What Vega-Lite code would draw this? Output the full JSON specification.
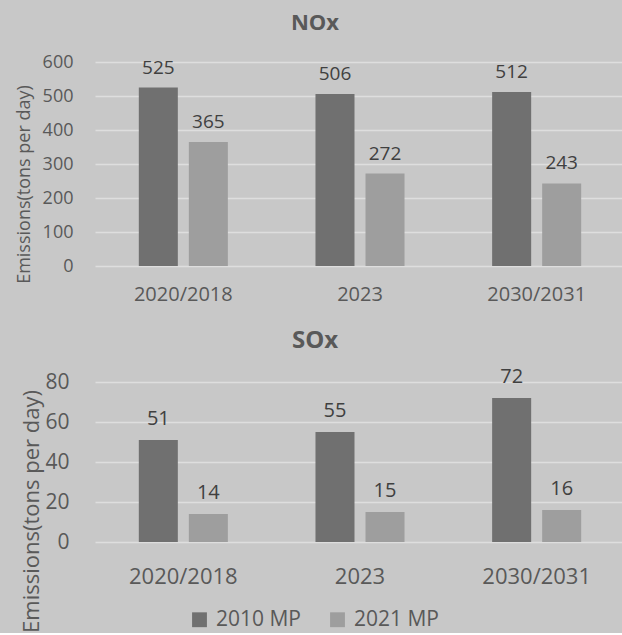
{
  "$schema": "https://vega.github.io/schema/vega-lite/v6.json",
  "background": "#c8c8c8",
  "padding": {"left": 14, "top": 12, "right": 0, "bottom": 0},
  "config": {
    "view": {"stroke": null},
    "font": "Open Sans",
    "axis": {"labelFont": "Open Sans", "titleFont": "Open Sans"},
    "legend": {"labelFont": "Open Sans"},
    "title": {"font": "Open Sans"}
  },
  "data": {
    "values": [
      {"pollutant": "NOx", "period": "2020/2018", "plan": "2010 MP", "value": 525},
      {"pollutant": "NOx", "period": "2020/2018", "plan": "2021 MP", "value": 365},
      {"pollutant": "NOx", "period": "2023", "plan": "2010 MP", "value": 506},
      {"pollutant": "NOx", "period": "2023", "plan": "2021 MP", "value": 272},
      {"pollutant": "NOx", "period": "2030/2031", "plan": "2010 MP", "value": 512},
      {"pollutant": "NOx", "period": "2030/2031", "plan": "2021 MP", "value": 243},
      {"pollutant": "SOx", "period": "2020/2018", "plan": "2010 MP", "value": 51},
      {"pollutant": "SOx", "period": "2020/2018", "plan": "2021 MP", "value": 14},
      {"pollutant": "SOx", "period": "2023", "plan": "2010 MP", "value": 55},
      {"pollutant": "SOx", "period": "2023", "plan": "2021 MP", "value": 15},
      {"pollutant": "SOx", "period": "2030/2031", "plan": "2010 MP", "value": 72},
      {"pollutant": "SOx", "period": "2030/2031", "plan": "2021 MP", "value": 16}
    ]
  },
  "spacing": 25,
  "resolve": {"scale": {"x": "independent", "y": "independent", "color": "shared"}},
  "vconcat": [
    {
      "width": 530,
      "height": 204,
      "title": {"text": "NOx", "fontSize": 22, "fontWeight": "bold", "color": "#595959", "frame": "group", "dx": -45, "offset": 18},
      "transform": [{"filter": "datum.pollutant === 'NOx'"}],
      "encoding": {
        "x": {
          "field": "period", "type": "nominal", "sort": ["2020/2018", "2023", "2030/2031"],
          "scale": {"paddingInner": 0.496, "paddingOuter": 0.248},
          "axis": {"title": null, "labelAngle": 0, "labelFontSize": 20, "labelColor": "#595959", "labelPadding": 18, "ticks": false, "domain": false, "grid": false}
        },
        "xOffset": {"field": "plan", "type": "nominal", "sort": ["2010 MP", "2021 MP"], "scale": {"paddingInner": 0.22, "paddingOuter": 0}},
        "y": {
          "field": "value", "type": "quantitative",
          "scale": {"domain": [0, 600], "nice": false},
          "axis": {"values": [0, 100, 200, 300, 400, 500, 600], "title": "Emissions(tons per day)", "titleFontSize": 18, "titleFontWeight": "normal", "titleColor": "#595959", "titleX": -62, "titleY": 122, "labelFontSize": 18, "labelColor": "#595959", "labelPadding": 22, "ticks": false, "domain": false, "grid": true, "gridColor": "#dedede", "gridWidth": 1.5}
        }
      },
      "layer": [
        {
          "mark": {"type": "bar"},
          "encoding": {
            "color": {
              "field": "plan", "type": "nominal",
              "scale": {"domain": ["2010 MP", "2021 MP"], "range": ["#707070", "#9e9e9e"]},
              "legend": {"title": null, "orient": "none", "direction": "horizontal", "legendX": 94, "legendY": 547, "symbolType": "square", "symbolSize": 220, "symbolStrokeWidth": 0, "labelFontSize": 21, "labelColor": "#595959", "labelOffset": 6, "columnPadding": 25, "labelLimit": 300}
            }
          }
        },
        {
          "mark": {"type": "text", "dy": -20, "fontSize": 19, "color": "#404040", "baseline": "middle"},
          "encoding": {"text": {"field": "value", "type": "quantitative"}}
        }
      ]
    },
    {
      "width": 530,
      "height": 160,
      "title": {"text": "SOx", "fontSize": 24, "fontWeight": "bold", "color": "#595959", "frame": "group", "dx": -45, "offset": 14},
      "transform": [{"filter": "datum.pollutant === 'SOx'"}],
      "encoding": {
        "x": {
          "field": "period", "type": "nominal", "sort": ["2020/2018", "2023", "2030/2031"],
          "scale": {"paddingInner": 0.496, "paddingOuter": 0.248},
          "axis": {"title": null, "labelAngle": 0, "labelFontSize": 22, "labelColor": "#595959", "labelPadding": 24, "ticks": false, "domain": false, "grid": false}
        },
        "xOffset": {"field": "plan", "type": "nominal", "sort": ["2010 MP", "2021 MP"], "scale": {"paddingInner": 0.22, "paddingOuter": 0}},
        "y": {
          "field": "value", "type": "quantitative",
          "scale": {"domain": [0, 80], "nice": false},
          "axis": {"values": [0, 20, 40, 60, 80], "title": "Emissions(tons per day)", "titleFontSize": 22, "titleFontWeight": "normal", "titleColor": "#595959", "titleX": -52, "titleY": 129, "labelFontSize": 21, "labelColor": "#595959", "labelPadding": 26, "ticks": false, "domain": false, "grid": true, "gridColor": "#dedede", "gridWidth": 1.5}
        }
      },
      "layer": [
        {
          "mark": {"type": "bar"},
          "encoding": {"color": {"field": "plan", "type": "nominal"}}
        },
        {
          "mark": {"type": "text", "dy": -21, "fontSize": 20, "color": "#404040", "baseline": "middle"},
          "encoding": {"text": {"field": "value", "type": "quantitative"}}
        }
      ]
    }
  ]
}
